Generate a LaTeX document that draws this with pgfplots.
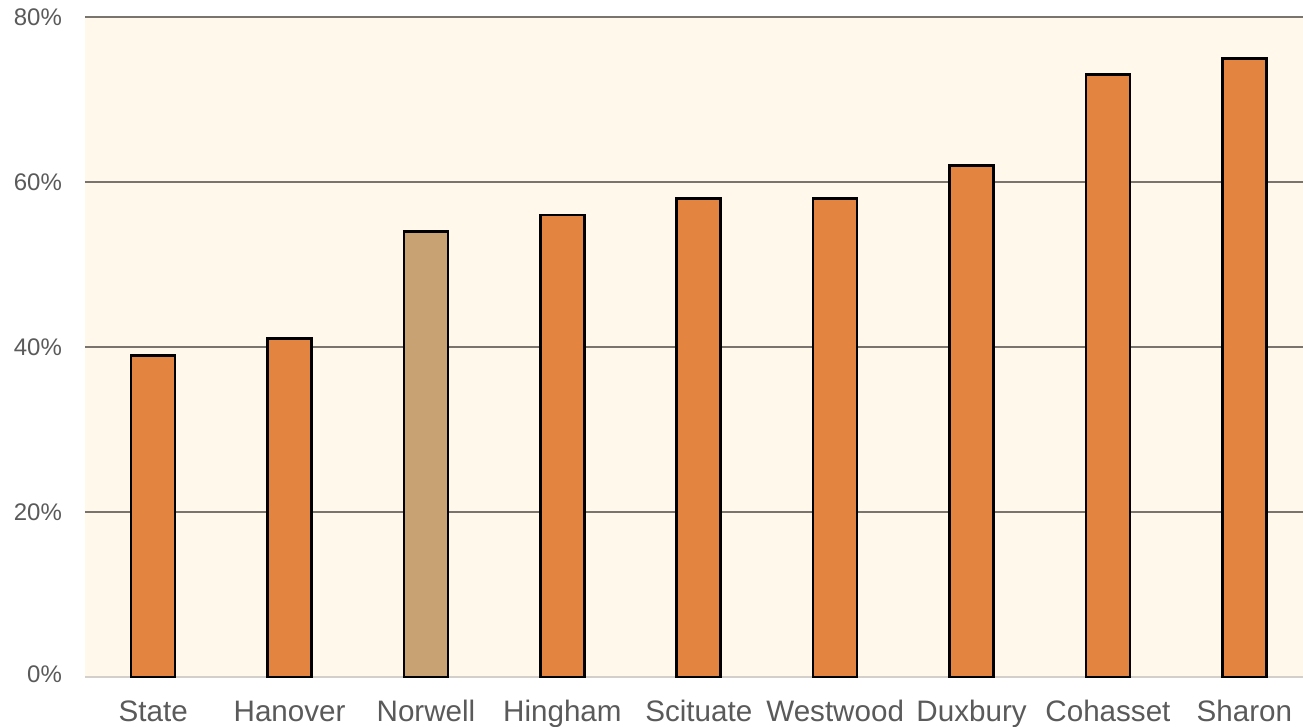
\documentclass[border=0pt]{standalone}
\usepackage{pgfplots}
\pgfplotsset{compat=1.18}
\usepackage{fontspec}
\setmainfont{Liberation Sans}
\definecolor{cream}{HTML}{FFF8EB}
\definecolor{barorange}{HTML}{E38441}
\definecolor{bartan}{HTML}{C9A274}
\definecolor{gridc}{HTML}{7A746E}
\definecolor{zeroc}{HTML}{D3D0CB}
\definecolor{labc}{HTML}{5A5A5A}
\begin{document}
\begin{tikzpicture}
\begin{axis}[
  at={(0,0)}, anchor=south west,
  scale only axis, width=609pt, height=330pt,
  xmin=-0.5, xmax=8.43, ymin=0, ymax=80,
  axis line style={draw=none},
  axis background/.style={fill=cream},
  major tick length=0pt,
  xtick={0,...,8},
  xticklabels={State,Hanover,Norwell,Hingham,Scituate,Westwood,Duxbury,Cohasset,Sharon},
  typeset ticklabels with strut,
  xticklabel style={font=\fontsize{14.8pt}{17pt}\selectfont, text=labc, yshift=-7pt},
  ytick={20,40,60,80},
  yticklabel={\pgfmathprintnumber{\tick}\%},
  extra y ticks={0},
  extra y tick labels={0\%},
  extra y tick style={grid style={draw=zeroc, line width=1pt}},
  yticklabel style={font=\fontsize{12pt}{14pt}\selectfont, text=labc, xshift=-8pt},
  /pgf/number format/assume math mode=true,
  ymajorgrids, grid style={draw=gridc, line width=1pt},
  ybar, bar width=22pt,
  clip=false,
]
\addplot[fill=barorange, draw=black, line width=1.3pt, bar shift=0pt]
  coordinates {(0,39) (1,41) (3,56) (4,58) (5,58) (6,62) (7,73) (8,75)};
\addplot[fill=bartan, draw=black, line width=1.3pt, bar shift=0pt]
  coordinates {(2,54)};
\end{axis}
\pgfresetboundingbox
\path[use as bounding box] (-42.5pt,-25pt) rectangle (609pt,338.5pt);
\end{tikzpicture}
\end{document}
